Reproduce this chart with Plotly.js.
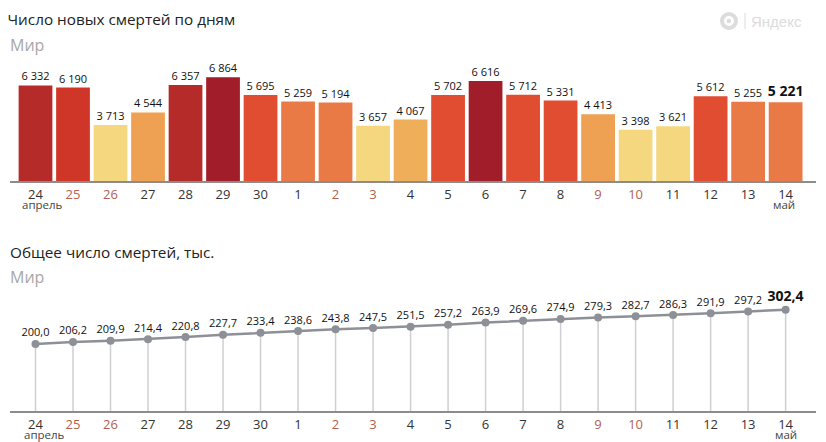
<!DOCTYPE html>
<html><head><meta charset="utf-8">
<script src="https://cdn.plot.ly/plotly-3.0.1.min.js"></script>
<style>html,body{margin:0;padding:0;background:#fff}</style></head>
<body><div id="chart" style="width:826px;height:442px"></div>
<script>
const days = ["24","25","26","27","28","29","30","1","2","3","4","5","6","7","8","9","10","11","12","13","14"];
const weekendDays = ["25","26","2","3","9","10"];
const newDeaths = [6332,6190,3713,4544,6357,6864,5695,5259,5194,3657,4067,5702,6616,5712,5331,4413,3398,3621,5612,5255,5221];
const newDeathLabels = ["6 332","6 190","3 713","4 544","6 357","6 864","5 695","5 259","5 194","3 657","4 067","5 702","6 616","5 712","5 331","4 413","3 398","3 621","5 612","5 255","5 221"];
const totalDeaths = [200.0,206.2,209.9,214.4,220.8,227.7,233.4,238.6,243.8,247.5,251.5,257.2,263.9,269.6,274.9,279.3,282.7,286.3,291.9,297.2,302.4];
const totalLabels = ["200,0","206,2","209,9","214,4","220,8","227,7","233,4","238,6","243,8","247,5","251,5","257,2","263,9","269,6","274,9","279,3","282,7","286,3","291,9","297,2","302,4"];

const W = 826, H = 442;
const px = x => x / W, py = y => 1 - y / H;
function barColor(v) {
  if (v >= 6600) return '#a01d29';
  if (v >= 6300) return '#b42b29';
  if (v >= 5900) return '#cf3628';
  if (v >= 5300) return '#e04d31';
  if (v >= 5000) return '#e97a46';
  if (v >= 4300) return '#efa153';
  if (v >= 3800) return '#efae5a';
  return '#f4d77f';
}
const boldLast = (a) => a.map((s, i) => i === a.length - 1 ? '<b>' + s + '</b>' : s);
const sizeLast = (a) => a.map((s, i) => i === a.length - 1 ? 14 : 11);
const tickText = days.map(d => weekendDays.includes(d) ? '<span style="color:#b4604c">' + d + '</span>' : d);

const xRange = [-0.68, 20.81];
const baseAxis = {
  type: 'category', categoryorder: 'array', categoryarray: days, range: xRange,
  tickmode: 'array', tickvals: days, ticktext: tickText,
  showgrid: false, zeroline: false, showline: true, linecolor: '#8c8c8c', linewidth: 2,
  ticks: '', tickfont: {family: 'Open Sans', size: 13, color: '#333'}, fixedrange: true
};
const yBase = {showgrid: false, zeroline: false, showline: false, showticklabels: false, ticks: '', fixedrange: true};

const traces = [
  {type: 'bar', x: days, y: newDeaths, xaxis: 'x', yaxis: 'y', width: 0.9,
   marker: {color: newDeaths.map(barColor), line: {width: 0}}, hoverinfo: 'x+y'},
  {type: 'scatter', mode: 'markers+text', x: days, y: newDeaths, xaxis: 'x', yaxis: 'y',
   marker: {size: 2, opacity: 0},
   text: boldLast(newDeathLabels), textposition: 'top center', cliponaxis: false,
   textfont: {family: 'Open Sans', size: sizeLast(newDeathLabels), color: '#111'}, hoverinfo: 'skip'},
  {type: 'scatter', mode: 'lines+markers', x: days, y: totalDeaths, xaxis: 'x2', yaxis: 'y2',
   line: {color: '#8e9097', width: 2.5}, marker: {color: '#8e9097', size: 8},
   error_y: {type: 'data', symmetric: false, array: totalDeaths.map(() => 0), arrayminus: totalDeaths, color: '#cfcfd2', thickness: 1.5, width: 0},
   cliponaxis: false, hoverinfo: 'x+y'},
  {type: 'scatter', mode: 'markers+text', x: days, y: totalDeaths, xaxis: 'x2', yaxis: 'y2',
   marker: {size: 6, opacity: 0},
   text: boldLast(totalLabels), textposition: 'top center', cliponaxis: false,
   textfont: {family: 'Open Sans', size: sizeLast(totalLabels), color: '#111'}, hoverinfo: 'skip'}
];
const note = (text, x, y, size, color, anchor, family) => ({
  text, x: px(x), y: py(y), xref: 'paper', yref: 'paper', showarrow: false,
  xanchor: anchor || 'left', yanchor: 'middle', align: 'left',
  font: {family: family || 'Open Sans', size, color}
});
const layout = {
  width: W, height: H, paper_bgcolor: '#fff', plot_bgcolor: '#fff', showlegend: false,
  margin: {l: 0, r: 0, t: 0, b: 0}, bargap: 0.1,
  title: {text: 'Число новых смертей по дням', x: px(7.5), xref: 'paper', xanchor: 'left', y: py(20), yref: 'paper', yanchor: 'middle',
          font: {family: 'Open Sans', size: 15.3, color: '#222'}},
  xaxis: Object.assign({}, baseAxis, {domain: [px(10), px(816)], anchor: 'y'}),
  yaxis: Object.assign({}, yBase, {domain: [py(181), py(60)], range: [0, 8013], anchor: 'x'}),
  xaxis2: Object.assign({}, baseAxis, {domain: [px(10), px(816)], anchor: 'y2'}),
  yaxis2: Object.assign({}, yBase, {domain: [py(411), py(280)], range: [0, 391], anchor: 'x2'}),
  annotations: [
    note('Мир', 7.5, 45, 16, '#a8a8a8'),
    note('Общее число смертей, тыс.', 7.5, 252, 15.3, '#222'),
    note('Мир', 7.5, 277, 16, '#a8a8a8'),
    note('апрель', 42, 204.5, 11.5, '#444', 'center'),
    note('май', 784, 204, 11.5, '#444', 'center'),
    note('апрель', 44, 434.5, 11.5, '#444', 'center'),
    note('май', 786, 434.5, 11.5, '#444', 'center'),
    note('Яндекс', 749, 21, 15, '#dcdcdc', 'left', 'Liberation Sans')
  ],
  shapes: [
    {type: 'circle', xref: 'paper', yref: 'paper', x0: px(722), x1: px(736), y0: py(28), y1: py(14), line: {color: '#dcdcdc', width: 4}, fillcolor: '#fff'},
    {type: 'circle', xref: 'paper', yref: 'paper', x0: px(726.5), x1: px(731), y0: py(23.3), y1: py(18.8), line: {width: 0}, fillcolor: '#dcdcdc'},
    {type: 'line', xref: 'paper', yref: 'paper', x0: px(745), x1: px(745), y0: py(13), y1: py(29), line: {color: '#dcdcdc', width: 1}}
  ]
};
Plotly.newPlot('chart', traces, layout, {displayModeBar: false, responsive: false});
</script></body></html>
